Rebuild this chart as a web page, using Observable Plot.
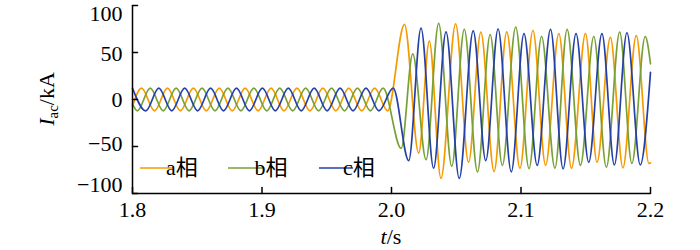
<!DOCTYPE html>
<html><head><meta charset="utf-8">
<script src="https://cdn.jsdelivr.net/npm/d3@7"></script>
<script src="https://cdn.jsdelivr.net/npm/@observablehq/plot@0.6"></script>
<style>body{margin:0;background:#fff} #chart{width:700px;height:250px}</style>
</head><body><div id="chart"></div>
<script>
const phases = ["a相", "b相", "c相"];
const colors = ["#F59B00", "#77A136", "#2541A8"];
const xTicks = [1.8, 1.9, 2.0, 2.1, 2.2];
const yTicks = [-100, -50, 0, 50, 100];

// phase a: extrema times (s) and current (kA)
const aT = [1.800, 1.807, 1.817, 1.827, 1.837, 1.847, 1.857, 1.867, 1.877, 1.887, 1.897, 1.907, 1.917, 1.927, 1.937, 1.947, 1.957, 1.967, 1.977, 1.987, 1.997,
  2.0100, 2.0210, 2.0292, 2.0382, 2.0495, 2.0595, 2.0690, 2.0792, 2.0890, 2.0992, 2.1092, 2.1190, 2.1292, 2.1390, 2.1498, 2.1587, 2.1690, 2.1787, 2.1890, 2.1988, 2.2000];
const aI = [-7, 12, -12, 12, -12, 12, -12, 12, -12, 12, -12, 12, -12, 12, -12, 12, -12, 12, -12, 12, -12,
  80, -57, 62, -84, 80.5, -66.7, 71.6, -76.6, 72, -73, 73.4, -70, 70, -73, 70, -66.7, 66, -72.7, 68, -68, -67.5];
// phase b
const bT = [1.800, 1.8037, 1.8137, 1.8237, 1.8337, 1.8437, 1.8537, 1.8637, 1.8737, 1.8837, 1.8937, 1.9037, 1.9137, 1.9237, 1.9337, 1.9437, 1.9537, 1.9637, 1.9737, 1.9837, 1.9935,
  2.0075, 2.0164, 2.0267, 2.0364, 2.0465, 2.0562, 2.0664, 2.0762, 2.0856, 2.0959, 2.1062, 2.1159, 2.1262, 2.1356, 2.1459, 2.1562, 2.1659, 2.1762, 2.1856, 2.1959, 2.2000];
const bI = [-5, -12, 12, -12, 12, -12, 12, -12, 12, -12, 12, -12, 12, -12, 12, -12, 12, -12, 12, -12, 12,
  -52, 48.5, -64, 81, -71, 74.5, -77, 69, -70, 77, -73.5, 67, -73, 74.5, -70, 67, -72, 71.6, -68, 67, 38];
// phase c
const cT = [1.800, 1.8103, 1.8203, 1.8303, 1.8403, 1.8503, 1.8603, 1.8703, 1.8803, 1.8903, 1.9003, 1.9103, 1.9203, 1.9303, 1.9403, 1.9503, 1.9603, 1.9703, 1.9803, 1.9903, 2.0013,
  2.0133, 2.0228, 2.0325, 2.0421, 2.0523, 2.0631, 2.0728, 2.0823, 2.0925, 2.1023, 2.1125, 2.1228, 2.1325, 2.1425, 2.1523, 2.1625, 2.1721, 2.1818, 2.1921, 2.2000];
const cI = [12, -12, 12, -12, 12, -12, 12, -12, 12, -12, 12, -12, 12, -12, 12, -12, 12, -12, 12, -12, 12,
  -65, 76, -73, 72, -84, 73, -65, 75, -77, 70, -70, 74.5, -73.7, 70, -66.7, 70, -69.5, 71, -69.5, 29];

const rows = [];
[[aT, aI], [bT, bI], [cT, cI]].forEach(([T, I], k) =>
  T.forEach((t, i) => rows.push({t, I: I[i], phase: phases[k]})));

const serif = '"Liberation Serif","Times New Roman","Noto Sans CJK SC",serif';
const yShift = {"100": 8, "50": 1, "0": 0, "-50": -3, "-100": -9};
const tickShape = {draw(context, l) { context.moveTo(0, 0); context.lineTo(0, -l); }};

const plot = Plot.plot({
  width: 700, height: 250,
  marginLeft: 132, marginRight: 50, marginTop: 5, marginBottom: 57,
  style: {fontFamily: serif, fontSize: "22px", background: "white", color: "black"},
  x: {domain: [xTicks[0], xTicks[xTicks.length - 1]], label: null},
  y: {domain: [yTicks[0], yTicks[yTicks.length - 1]], label: null},
  color: {domain: phases, range: colors},
  marks: [
    Plot.line(rows, {x: "t", y: "I", z: "phase", stroke: "phase", strokeWidth: 1.7, curve: "monotone-x"}),
    Plot.ruleX([xTicks[0]], {stroke: "black", strokeWidth: 1.5}),
    Plot.ruleY([yTicks[0]], {stroke: "black", strokeWidth: 1.5}),
    // inward ticks
    Plot.vector(xTicks, {x: d => d, y: yTicks[0], length: 6, rotate: 0, anchor: "start", shape: tickShape, stroke: "black", strokeWidth: 1.5}),
    Plot.vector(yTicks, {x: xTicks[0], y: d => d, length: 5, rotate: 90, anchor: "start", shape: tickShape, stroke: "black", strokeWidth: 1.5}),
    Plot.axisX({ticks: xTicks, tickSize: 0, tickPadding: 8, tickFormat: d3.format(".1f"), label: null}),
    ...yTicks.map(v => Plot.axisY({ticks: [v], tickSize: 0, tickPadding: 10, dy: yShift[String(v)], label: null}))
  ]
});
document.getElementById("chart").appendChild(plot);

const svg = d3.select(plot);
// legend
const legendPos = [{x1: 140, x2: 174, tx: 182}, {x1: 228, x2: 263, tx: 271}, {x1: 319, x2: 353, tx: 359}];
const lg = svg.append("g").attr("font-family", serif).attr("font-size", 22);
phases.forEach((p, i) => {
  const L = legendPos[i];
  lg.append("line").attr("x1", L.x1).attr("x2", L.x2).attr("y1", 168).attr("y2", 168)
    .attr("stroke", colors[i]).attr("stroke-width", 1.7);
  lg.append("text").attr("x", L.tx).attr("y", 175).attr("fill", "black").text(p);
});
// y label
const yl = svg.append("text").attr("transform", "translate(54,99) rotate(-90)")
  .attr("text-anchor", "middle").attr("font-family", serif).attr("font-size", 22).attr("fill", "black");
yl.append("tspan").attr("font-style", "italic").text("I");
yl.append("tspan").attr("font-size", 15).attr("dy", 4).text("ac");
yl.append("tspan").attr("dy", -4).text("/kA");
// x label
const xl = svg.append("text").attr("x", 391).attr("y", 244)
  .attr("text-anchor", "middle").attr("font-family", serif).attr("font-size", 22).attr("fill", "black");
xl.append("tspan").attr("font-style", "italic").text("t");
xl.append("tspan").text("/s");
</script>
</body></html>
